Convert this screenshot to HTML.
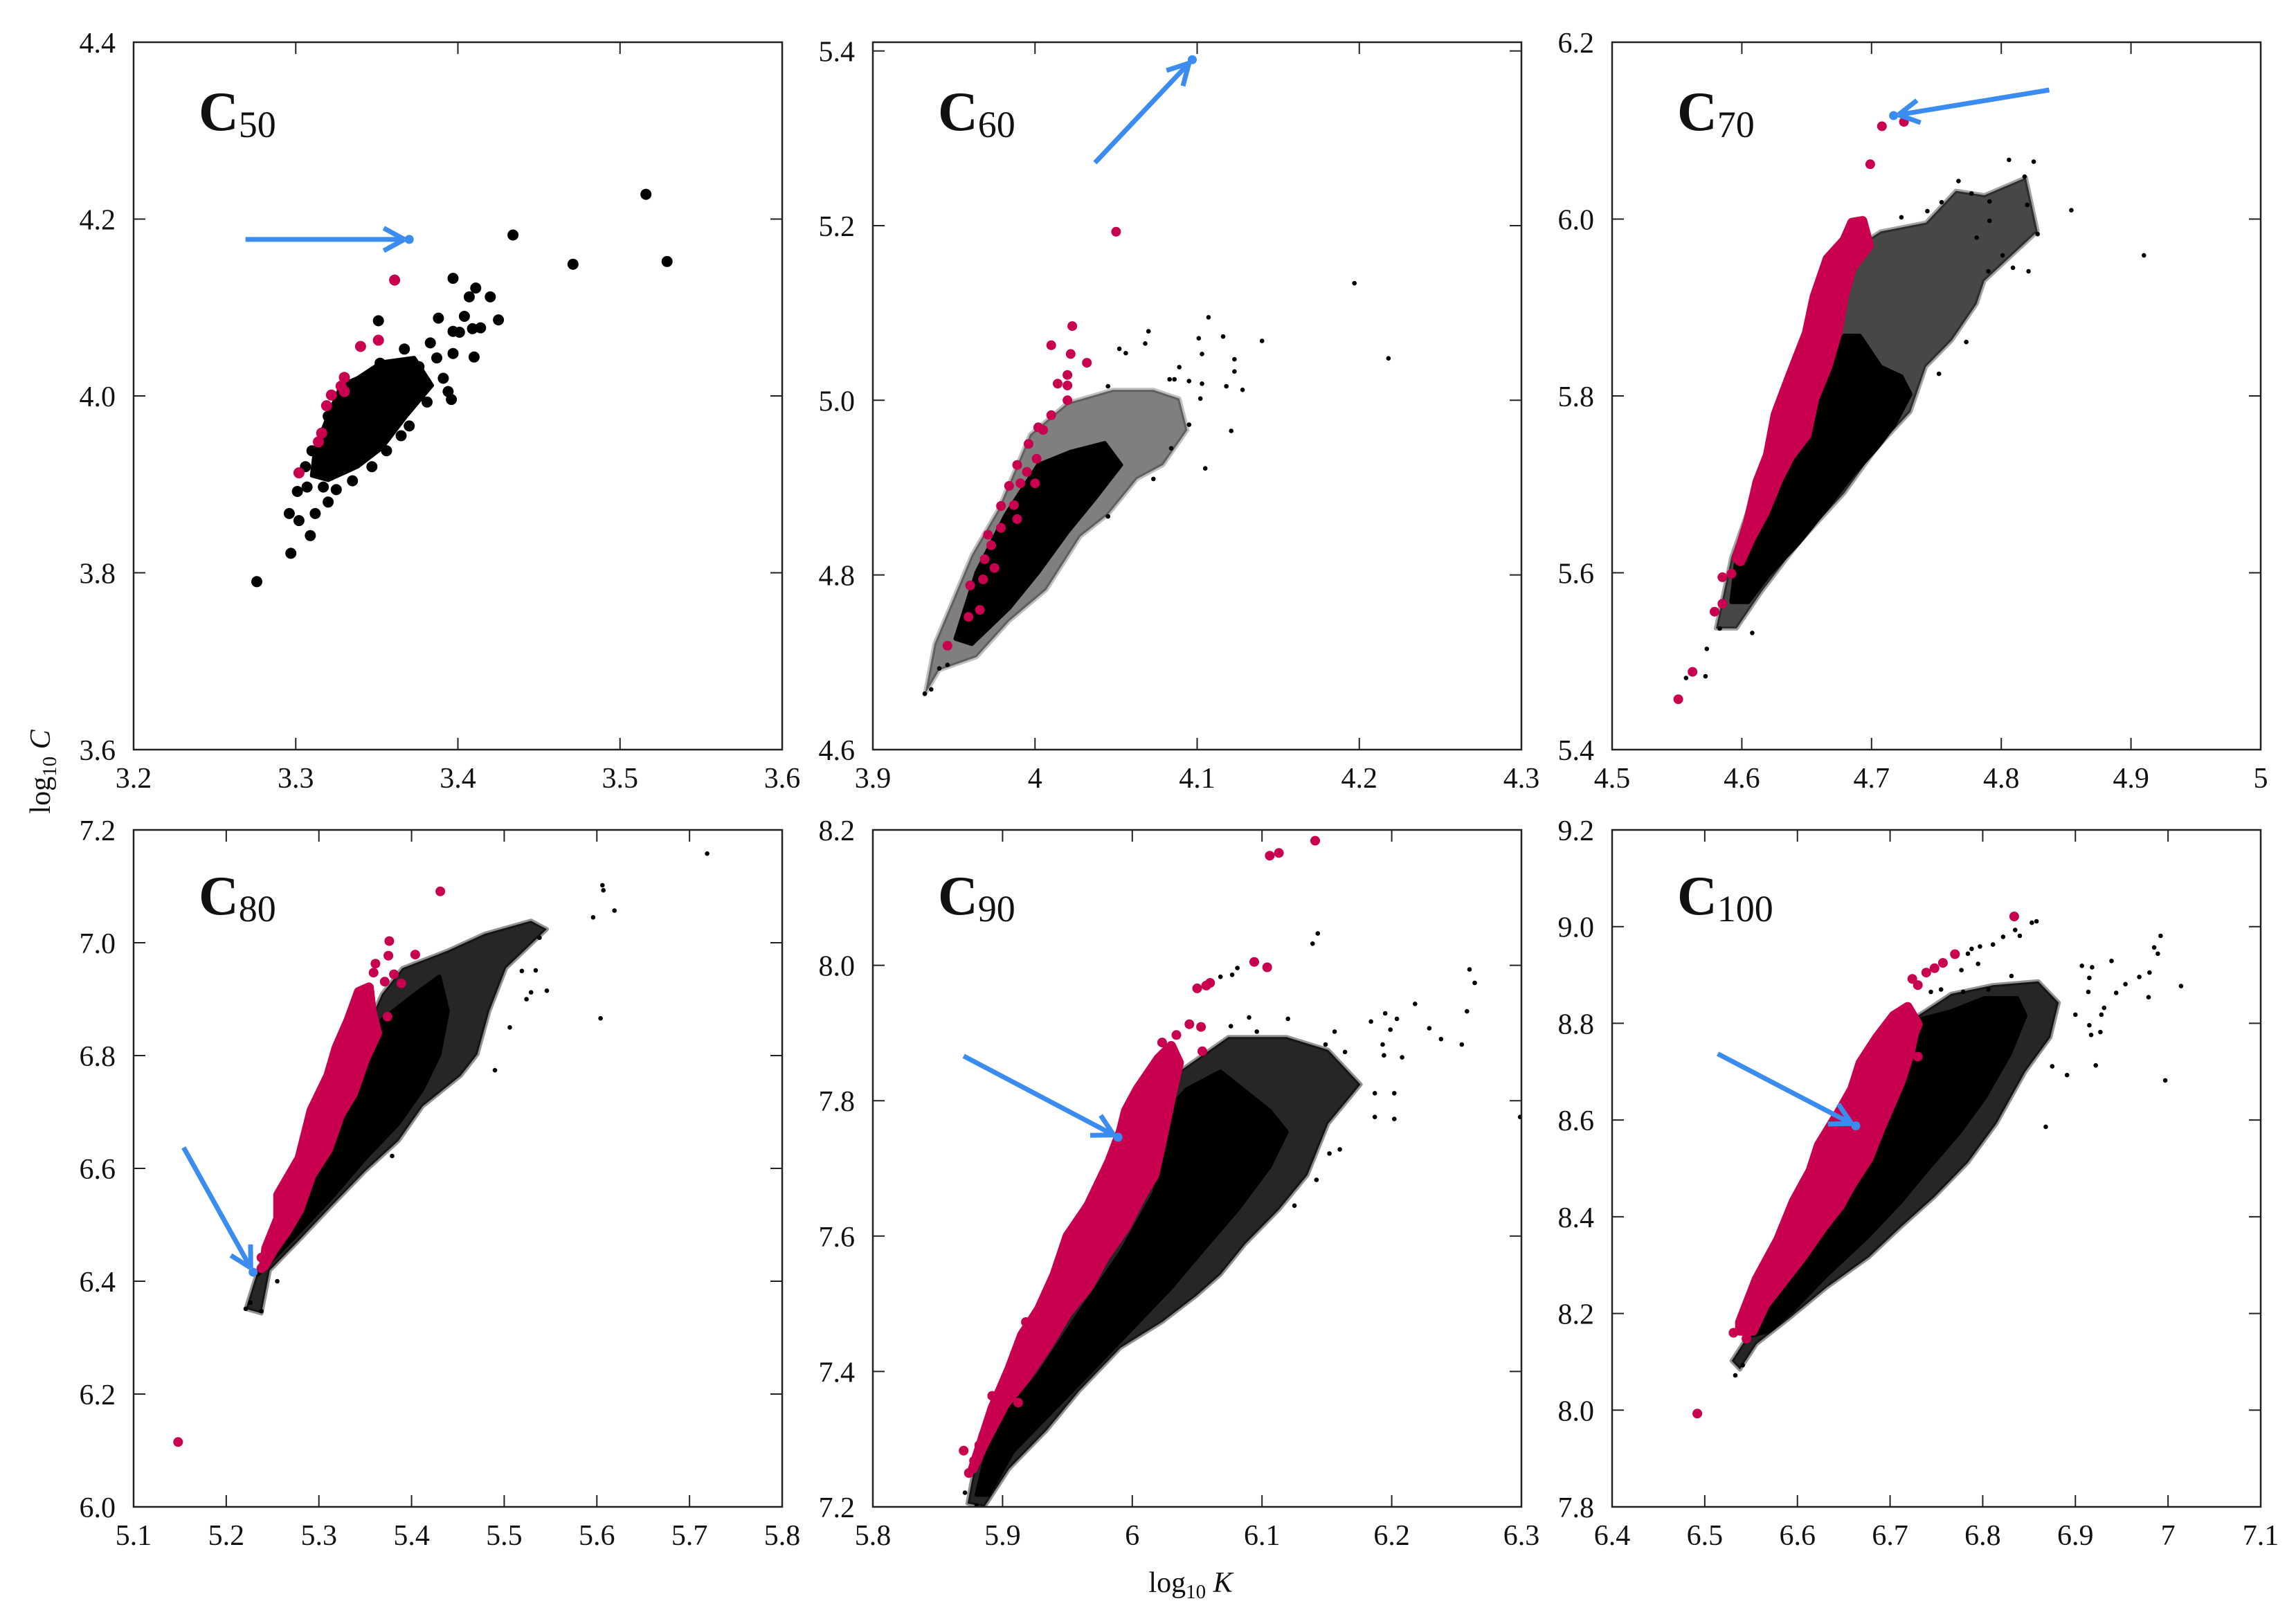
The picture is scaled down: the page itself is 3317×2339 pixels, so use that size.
<!DOCTYPE html>
<html><head><meta charset="utf-8"><title>log C vs log K scatter panels</title>
<style>html,body{margin:0;padding:0;background:#fff}svg{display:block}text{font-family:"Liberation Serif","DejaVu Serif",serif;fill:#111}</style>
</head><body>
<svg id="chart" xmlns="http://www.w3.org/2000/svg" width="3317" height="2339" viewBox="0 0 3317 2339">
<rect width="3317" height="2339" fill="#fff"/>
<text transform="translate(72,1115) rotate(-90)" text-anchor="middle" font-size="42">log<tspan font-size="29" dy="9">10</tspan><tspan dy="-9" font-style="italic"> C</tspan></text>
<text x="1720" y="2300" text-anchor="middle" font-size="42">log<tspan font-size="29" dy="9">10</tspan><tspan dy="-9" font-style="italic"> K</tspan></text>
</svg>
<script>
// ---- data (log10 K, log10 C) ----
const panelNames = ["50","60","70","80","90","100"];
const xDomains = [[3.2,3.6],[3.9,4.3],[4.5,5.0],[5.1,5.8],[5.8,6.3],[6.4,7.1]];
const yDomains = [[3.6,4.4],[4.6,5.41],[5.4,6.2],[6.0,7.2],[7.2,8.2],[7.8,9.2]];
const xTickVals = [[3.2,3.3,3.4,3.5,3.6],[3.9,4.0,4.1,4.2,4.3],[4.5,4.6,4.7,4.8,4.9,5.0],[5.1,5.2,5.3,5.4,5.5,5.6,5.7,5.8],[5.8,5.9,6.0,6.1,6.2,6.3],[6.4,6.5,6.6,6.7,6.8,6.9,7.0,7.1]];
const xTickLabels = [["3.2","3.3","3.4","3.5","3.6"],["3.9","4","4.1","4.2","4.3"],["4.5","4.6","4.7","4.8","4.9","5"],["5.1","5.2","5.3","5.4","5.5","5.6","5.7","5.8"],["5.8","5.9","6","6.1","6.2","6.3"],["6.4","6.5","6.6","6.7","6.8","6.9","7","7.1"]];
const yTickVals = [[3.6,3.8,4.0,4.2,4.4],[4.6,4.8,5.0,5.2,5.4],[5.4,5.6,5.8,6.0,6.2],[6.0,6.2,6.4,6.6,6.8,7.0,7.2],[7.2,7.4,7.6,7.8,8.0,8.2],[7.8,8.0,8.2,8.4,8.6,8.8,9.0,9.2]];
const yTickLabels = [["3.6","3.8","4.0","4.2","4.4"],["4.6","4.8","5.0","5.2","5.4"],["5.4","5.6","5.8","6.0","6.2"],["6.0","6.2","6.4","6.6","6.8","7.0","7.2"],["7.2","7.4","7.6","7.8","8.0","8.2"],["7.8","8.0","8.2","8.4","8.6","8.8","9.0","9.2"]];

const blueVals = [[3.370,4.177],[4.097,5.390],[4.717,6.117],[5.229,6.416],[5.989,7.746],[6.663,8.588]];
const arrowStartVals = [[3.269,4.177],[4.037,5.272],[4.837,6.146],[5.154,6.637],[5.870,7.866],[6.514,8.737]];

const sparseClouds = [
 [],
 [[3.932,4.663],[3.938,4.721],[3.961,4.823],[3.977,4.874],[3.997,4.961],[4.020,4.997],[4.048,5.012],[4.073,5.012],[4.089,5.002],[4.094,4.966],[4.079,4.926],[4.063,4.910],[4.045,4.869],[4.028,4.844],[4.007,4.783],[3.984,4.747],[3.964,4.706],[3.941,4.691]],
 [[4.580,5.537],[4.592,5.618],[4.634,5.792],[4.666,5.914],[4.685,5.965],[4.707,5.986],[4.742,5.996],[4.765,6.032],[4.787,6.027],[4.819,6.047],[4.828,5.986],[4.787,5.930],[4.781,5.904],[4.762,5.863],[4.742,5.833],[4.730,5.782],[4.704,5.741],[4.679,5.690],[4.644,5.634],[4.615,5.578],[4.596,5.537]],
 [[5.221,6.351],[5.234,6.419],[5.368,6.909],[5.390,6.955],[5.439,6.986],[5.479,7.016],[5.529,7.039],[5.546,7.024],[5.502,6.955],[5.484,6.879],[5.471,6.802],[5.453,6.764],[5.412,6.710],[5.386,6.649],[5.350,6.595],[5.314,6.534],[5.279,6.473],[5.247,6.419],[5.238,6.343]],
 [[5.873,7.205],[5.883,7.307],[6.036,7.843],[6.074,7.894],[6.119,7.894],[6.151,7.875],[6.176,7.824],[6.151,7.766],[6.135,7.690],[6.113,7.639],[6.087,7.588],[6.068,7.543],[6.049,7.511],[6.023,7.473],[5.991,7.435],[5.959,7.371],[5.934,7.313],[5.905,7.256],[5.886,7.200]],
 [[6.529,8.102],[6.547,8.155],[6.730,8.816],[6.766,8.861],[6.811,8.879],[6.860,8.887],[6.882,8.843],[6.873,8.771],[6.846,8.700],[6.815,8.593],[6.784,8.512],[6.748,8.441],[6.712,8.379],[6.677,8.316],[6.632,8.254],[6.592,8.191],[6.556,8.137],[6.538,8.084]]
];
const sparseOpacity = [0,0.5,0.72,0.85,0.85,0.85];

const denseClouds = [
 [[3.312,3.941],[3.320,3.977],[3.328,4.012],[3.338,4.020],[3.353,4.038],[3.373,4.043],[3.384,4.012],[3.368,3.977],[3.353,3.941],[3.338,3.920],[3.320,3.905],[3.310,3.910]],
 [[3.951,4.727],[3.964,4.803],[3.982,4.869],[4.002,4.926],[4.022,4.941],[4.043,4.951],[4.053,4.926],[4.038,4.890],[4.020,4.849],[4.002,4.803],[3.984,4.762],[3.961,4.721]],
 [[4.592,5.567],[4.596,5.618],[4.615,5.700],[4.634,5.761],[4.650,5.812],[4.666,5.843],[4.679,5.868],[4.691,5.868],[4.707,5.833],[4.723,5.822],[4.730,5.802],[4.717,5.766],[4.704,5.741],[4.685,5.710],[4.666,5.674],[4.644,5.634],[4.621,5.598],[4.605,5.567]],
 [[5.234,6.412],[5.252,6.473],[5.287,6.580],[5.323,6.703],[5.350,6.787],[5.368,6.863],[5.404,6.909],[5.430,6.940],[5.439,6.879],[5.430,6.802],[5.412,6.741],[5.386,6.680],[5.350,6.618],[5.314,6.549],[5.279,6.488],[5.252,6.442]],
 [[5.880,7.218],[5.892,7.313],[5.928,7.396],[5.959,7.486],[5.991,7.575],[6.017,7.664],[6.030,7.792],[6.042,7.817],[6.068,7.843],[6.106,7.785],[6.119,7.754],[6.106,7.703],[6.081,7.639],[6.055,7.581],[6.030,7.524],[5.998,7.460],[5.966,7.396],[5.934,7.333],[5.908,7.282],[5.889,7.218]],
 [[6.552,8.155],[6.570,8.236],[6.614,8.352],[6.659,8.468],[6.690,8.575],[6.712,8.646],[6.721,8.754],[6.730,8.807],[6.766,8.825],[6.802,8.852],[6.837,8.852],[6.846,8.816],[6.829,8.736],[6.802,8.646],[6.775,8.575],[6.739,8.495],[6.712,8.432],[6.677,8.361],[6.632,8.280],[6.596,8.209],[6.570,8.164]]
];

const magentaBands = [
 [],[],
 [[4.596,5.616],[4.605,5.659],[4.612,5.703],[4.620,5.733],[4.626,5.779],[4.637,5.822],[4.650,5.871],[4.656,5.912],[4.666,5.955],[4.679,5.976],[4.685,5.996],[4.693,5.998],[4.698,5.970],[4.685,5.945],[4.679,5.914],[4.674,5.873],[4.666,5.833],[4.656,5.797],[4.650,5.756],[4.637,5.731],[4.628,5.705],[4.618,5.669],[4.607,5.639],[4.599,5.613]],
 [[5.243,6.458],[5.256,6.511],[5.256,6.553],[5.279,6.618],[5.292,6.703],[5.310,6.764],[5.319,6.814],[5.332,6.863],[5.343,6.913],[5.354,6.921],[5.357,6.879],[5.363,6.840],[5.350,6.794],[5.337,6.733],[5.323,6.695],[5.310,6.634],[5.292,6.588],[5.279,6.527],[5.265,6.488],[5.252,6.458],[5.241,6.427]],
 [[5.877,7.256],[5.892,7.345],[5.905,7.403],[5.915,7.454],[5.928,7.492],[5.940,7.543],[5.950,7.600],[5.966,7.645],[5.974,7.677],[5.982,7.709],[5.991,7.754],[5.995,7.785],[6.004,7.817],[6.020,7.862],[6.030,7.881],[6.036,7.856],[6.030,7.805],[6.023,7.741],[6.017,7.690],[6.007,7.658],[5.995,7.613],[5.979,7.569],[5.966,7.524],[5.950,7.486],[5.934,7.435],[5.918,7.390],[5.902,7.352],[5.886,7.294]],
 [[6.538,8.182],[6.556,8.271],[6.579,8.352],[6.596,8.432],[6.614,8.495],[6.623,8.548],[6.646,8.620],[6.659,8.664],[6.668,8.718],[6.686,8.771],[6.704,8.816],[6.719,8.834],[6.730,8.798],[6.726,8.780],[6.721,8.736],[6.712,8.682],[6.704,8.646],[6.690,8.584],[6.677,8.521],[6.659,8.468],[6.646,8.423],[6.628,8.379],[6.605,8.316],[6.583,8.262],[6.565,8.218],[6.552,8.164],[6.538,8.164]]
];

const blackPoints = [
 [[3.516,4.228],[3.529,4.152],[3.471,4.149],[3.434,4.182],[3.397,4.133],[3.411,4.122],[3.407,4.112],[3.420,4.112],[3.425,4.086],[3.388,4.088],[3.404,4.090],[3.397,4.073],[3.401,4.072],[3.409,4.076],[3.414,4.077],[3.383,4.060],[3.387,4.043],[3.397,4.048],[3.410,4.044],[3.391,4.020],[3.394,4.005],[3.396,3.996],[3.381,3.993],[3.367,4.053],[3.351,4.085],[3.352,4.037],[3.370,3.966],[3.365,3.955],[3.356,3.938],[3.347,3.920],[3.335,3.904],[3.325,3.894],[3.320,3.880],[3.312,3.867],[3.296,3.867],[3.302,3.859],[3.309,3.842],[3.297,3.822],[3.276,3.790],[3.301,3.892],[3.307,3.897],[3.317,3.897],[3.306,3.920],[3.310,3.938],[3.320,3.977],[3.338,4.015],[3.376,4.033]],
 [[4.197,5.134],[4.218,5.048],[4.107,5.095],[4.140,5.068],[4.116,5.073],[4.101,5.071],[4.070,5.079],[4.068,5.065],[4.052,5.059],[4.056,5.054],[4.103,5.053],[4.123,5.047],[4.123,5.033],[4.089,5.038],[4.083,5.024],[4.086,5.024],[4.095,5.022],[4.103,5.019],[4.118,5.016],[4.128,5.012],[4.102,5.002],[4.045,5.016],[4.095,4.972],[4.121,4.965],[4.105,4.922],[4.084,4.945],[4.073,4.910],[4.045,4.867],[3.941,4.693],[3.946,4.697],[3.932,4.664],[3.936,4.669]],
 [[4.910,5.959],[4.806,6.067],[4.825,6.065],[4.818,6.048],[4.820,6.016],[4.854,6.010],[4.828,5.983],[4.791,6.020],[4.791,5.998],[4.767,6.043],[4.777,6.029],[4.801,5.959],[4.809,5.945],[4.821,5.941],[4.781,5.979],[4.790,5.941],[4.773,5.861],[4.752,5.825],[4.723,6.002],[4.743,6.009],[4.754,6.019],[4.572,5.483],[4.557,5.481],[4.573,5.514],[4.608,5.532],[4.583,5.537]],
 [[5.719,7.158],[5.606,7.102],[5.607,7.093],[5.596,7.045],[5.619,7.057],[5.604,6.866],[5.490,6.774],[5.506,6.850],[5.546,6.915],[5.529,6.912],[5.524,6.900],[5.519,6.950],[5.534,6.951],[5.538,7.009],[5.238,6.347],[5.255,6.400],[5.379,6.622],[5.221,6.351],[5.226,6.362]],
 [[6.143,8.047],[6.139,8.032],[6.260,7.994],[6.264,7.974],[6.218,7.943],[6.258,7.932],[6.229,7.907],[6.238,7.891],[6.254,7.883],[6.184,7.917],[6.195,7.929],[6.204,7.921],[6.199,7.905],[6.193,7.883],[6.208,7.864],[6.194,7.867],[6.187,7.811],[6.202,7.811],[6.187,7.776],[6.202,7.773],[6.299,7.776],[6.120,7.921],[6.090,7.923],[6.096,7.902],[6.076,7.910],[6.156,7.902],[6.149,7.883],[6.164,7.872],[6.142,7.683],[6.125,7.645],[6.160,7.728],[6.152,7.722],[6.068,7.983],[6.077,7.986],[6.081,7.996],[5.871,7.221],[5.880,7.202]],
 [[6.992,8.981],[6.985,8.957],[6.989,8.944],[7.014,8.877],[6.997,8.682],[6.980,8.905],[6.969,8.896],[6.979,8.854],[6.939,8.929],[6.954,8.881],[6.944,8.863],[6.918,8.916],[6.915,8.894],[6.914,8.865],[6.907,8.919],[6.931,8.832],[6.928,8.818],[6.900,8.818],[6.915,8.796],[6.917,8.776],[6.927,8.782],[6.922,8.713],[6.891,8.693],[6.875,8.711],[6.868,8.586],[6.858,9.011],[6.853,9.008],[6.835,8.993],[6.840,8.981],[6.822,8.979],[6.811,8.963],[6.797,8.959],[6.788,8.954],[6.784,8.944],[6.795,8.923],[6.777,8.910],[6.831,8.898],[6.806,8.870],[6.779,8.865],[6.744,8.865],[6.755,8.870],[6.533,8.072],[6.541,8.093]]
];

const magentaPoints = [
 [[3.330,4.021],[3.328,4.011],[3.330,4.005],[3.322,4.001],[3.319,3.989],[3.316,3.958],[3.314,3.948],[3.302,3.913],[3.340,4.056],[3.351,4.063],[3.361,4.131]],
 [[4.050,5.193],[4.023,5.085],[4.010,5.063],[4.022,5.053],[4.032,5.043],[4.020,5.029],[4.014,5.019],[4.020,5.017],[4.020,5.000],[4.010,4.983],[4.002,4.969],[4.005,4.966],[3.996,4.950],[4.001,4.933],[3.989,4.926],[3.995,4.918],[3.984,4.902],[3.991,4.905],[4.000,4.905],[3.979,4.879],[3.987,4.880],[3.989,4.864],[3.979,4.854],[3.971,4.846],[3.973,4.834],[3.969,4.818],[3.975,4.808],[3.968,4.795],[3.960,4.788],[3.966,4.760],[3.959,4.752],[3.946,4.719]],
 [[4.725,6.110],[4.708,6.105],[4.699,6.062],[4.551,5.457],[4.562,5.488],[4.579,5.556],[4.585,5.565],[4.585,5.595],[4.592,5.599]],
 [[5.148,6.115],[5.431,7.091],[5.376,7.003],[5.375,6.977],[5.404,6.979],[5.361,6.963],[5.359,6.947],[5.381,6.944],[5.389,6.928],[5.371,6.931],[5.374,6.869],[5.238,6.442],[5.238,6.423]],
 [[6.141,8.184],[6.106,8.162],[6.113,8.166],[6.094,8.005],[6.104,7.997],[6.050,7.966],[6.060,7.974],[6.057,7.970],[6.044,7.913],[6.053,7.909],[6.054,7.873],[6.034,7.897],[6.023,7.886],[5.870,7.283],[5.874,7.250],[5.878,7.268],[5.882,7.291],[5.892,7.328],[5.892,7.364],[5.912,7.354],[5.918,7.473]],
 [[6.492,7.993],[6.834,9.021],[6.770,8.943],[6.531,8.160],[6.545,8.148],[6.730,8.731],[6.724,8.892],[6.739,8.905],[6.757,8.925],[6.748,8.914],[6.730,8.879]]
];

// ---- layout (pixels) ----
const panelLeft = [193,1261,2329,193,1261,2329];
const panelTop = [61,61,61,1199,1199,1199];
const panelW = 937;
const panelH = [1022,1022,1022,978,978,978];
const blackR = [8,3.3,3.3,3.3,3.3,3.3];
const magR = [8,7,7,7,7,7];
const MAG = "#c8004f", BLUE = "#3a8cf0";

const NS = "http://www.w3.org/2000/svg";
const svg = document.getElementById('chart');
function mk(tag, attrs, parent){ const e=document.createElementNS(NS,tag); for(const k in attrs) e.setAttribute(k,attrs[k]); (parent||svg).appendChild(e); return e; }

for (let p=0;p<6;p++){
  const L=panelLeft[p], T=panelTop[p], Wd=panelW, Ht=panelH[p];
  const xd=xDomains[p], yd=yDomains[p];
  const sx = v => L + (v-xd[0])/(xd[1]-xd[0])*Wd;
  const sy = v => T + Ht - (v-yd[0])/(yd[1]-yd[0])*Ht;
  const g = mk('g',{});
  
  
  const clipId='clip'+p;
  const cp = mk('clipPath',{id:clipId},g);
  mk('rect',{x:L,y:T,width:Wd,height:Ht},cp);
  const plot = mk('g',{'clip-path':'url(#'+clipId+')'},g);
  
  
  const poly = pts => pts.map(d=>sx(d[0]).toFixed(1)+','+sy(d[1]).toFixed(1)).join(' ');
  if (sparseClouds[p].length){
    const s = mk('polygon',{points:poly(sparseClouds[p]),fill:'#000','fill-opacity':sparseOpacity[p],stroke:'#000','stroke-opacity':sparseOpacity[p]*0.5,'stroke-width':6,'stroke-linejoin':'round'},plot);
    
    
  }
  const dc = mk('polygon',{points:poly(denseClouds[p]),fill:'#000',stroke:'#000','stroke-width':6,'stroke-linejoin':'round'},plot);
  
  
  if (magentaBands[p].length){
    const mb = mk('polygon',{points:poly(magentaBands[p]),fill:MAG,stroke:MAG,'stroke-width':14,'stroke-linejoin':'round'},plot);
    
    
  }
  blackPoints[p].forEach(d=>{
    const c = mk('circle',{cx:sx(d[0]).toFixed(1),cy:sy(d[1]).toFixed(1),r:blackR[p],fill:'#000'},plot);
    
    
  });
  magentaPoints[p].forEach(d=>{
    const c = mk('circle',{cx:sx(d[0]).toFixed(1),cy:sy(d[1]).toFixed(1),r:magR[p],fill:MAG},plot);
    
    
  });
  const bx=sx(blueVals[p][0]), by=sy(blueVals[p][1]);
  const ax=sx(arrowStartVals[p][0]), ay=sy(arrowStartVals[p][1]);
  const ang=Math.atan2(by-ay,bx-ax);
  const tx=bx-Math.cos(ang)*7, ty=by-Math.sin(ang)*7;
  const arrow = mk('g',{stroke:BLUE,'stroke-width':7,fill:'none','stroke-linecap':'butt'},plot);
  
  
  mk('line',{x1:ax,y1:ay,x2:tx,y2:ty},arrow);
  [0.5,-0.5].forEach(o=>{
    mk('line',{x1:tx,y1:ty,x2:tx-Math.cos(ang+o)*34,y2:ty-Math.sin(ang+o)*34},arrow);
  });
  const bc = mk('circle',{cx:bx,cy:by,r:6.5,fill:BLUE},plot);
  
  
  const fr = mk('rect',{x:L,y:T,width:Wd,height:Ht,fill:'none',stroke:'#222','stroke-width':2.5},g);
  
  
  xTickVals[p].forEach((v,i)=>{
    const x=sx(v);
    mk('line',{x1:x,y1:T+Ht,x2:x,y2:T+Ht-17,stroke:'#222','stroke-width':2},g);
    mk('line',{x1:x,y1:T,x2:x,y2:T+17,stroke:'#222','stroke-width':2},g);
    const t = mk('text',{x:x,y:T+Ht+55,'text-anchor':'middle','font-size':42},g);
    t.textContent = xTickLabels[p][i];
    
    
  });
  yTickVals[p].forEach((v,i)=>{
    const y=sy(v);
    mk('line',{x1:L,y1:y,x2:L+17,y2:y,stroke:'#222','stroke-width':2},g);
    mk('line',{x1:L+Wd,y1:y,x2:L+Wd-17,y2:y,stroke:'#222','stroke-width':2},g);
    const t = mk('text',{x:L-26,y:y+15,'text-anchor':'end','font-size':42},g);
    t.textContent = yTickLabels[p][i];
    
    
  });
  const base = T + (p<3?127:122);
  const tt = mk('text',{x:L+94,y:base,'font-size':80,'font-weight':'bold'},g);
  
  
  tt.appendChild(document.createTextNode('C'));
  const sub = mk('tspan',{'font-size':54,'font-weight':'normal',dy:10},tt);
  sub.textContent = panelNames[p];
}
</script>
</body></html>
